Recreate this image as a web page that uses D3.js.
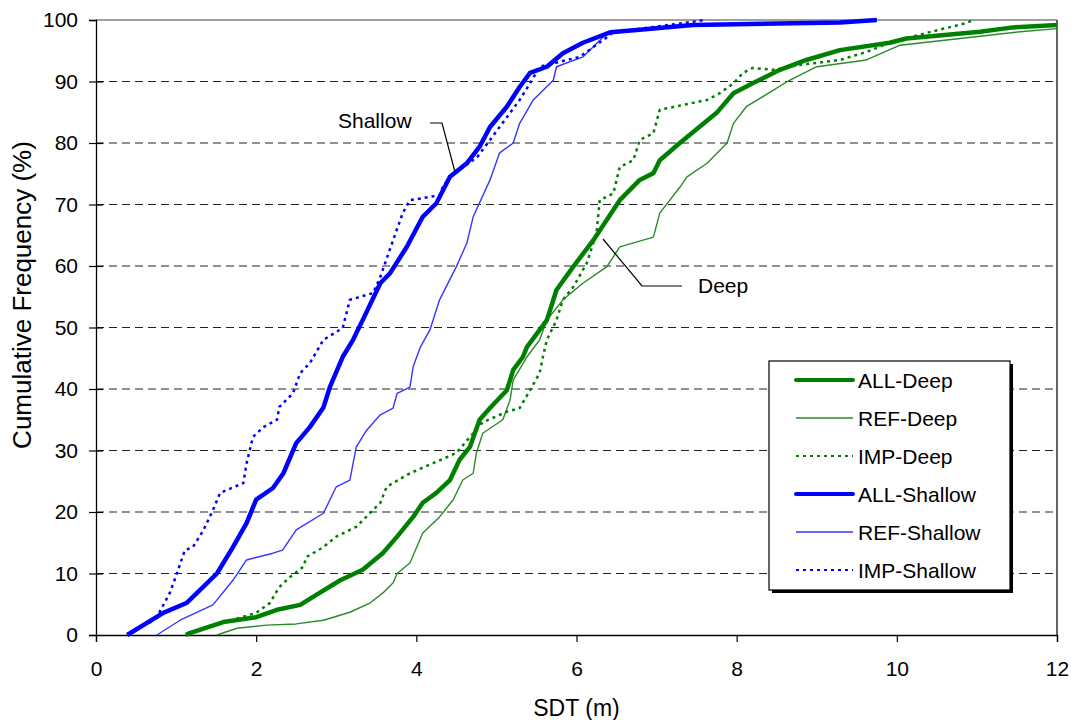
<!DOCTYPE html>
<html>
<head>
<meta charset="utf-8">
<script src="https://cdn.jsdelivr.net/npm/d3@7"></script>
<style>
  body { margin: 0; background: #fff; }
  text { font-family: "Liberation Sans", Arial, sans-serif; fill: #000; }
</style>
</head>
<body>
<div id="chart"></div>
<script>
// cumulative frequency curves: [SDT (m), %]
let allDeep = [[1.12,0],[1.17,0.3],[1.59,2.1],[2.0,2.9],[2.26,4.1],[2.55,4.9],[2.71,6.2],[3.05,8.9],
  [3.33,10.6],[3.58,13.3],[3.76,16],[3.96,19.2],[4.08,21.5],[4.25,23.1],[4.42,25.2],[4.54,28.5],
  [4.67,30.6],[4.79,35],[4.92,36.9],[5.13,39.8],[5.21,43.1],[5.33,45.2],[5.38,46.8],[5.54,49.6],
  [5.63,51.2],[5.75,56.1],[5.96,59.9],[6.21,64.2],[6.54,70.7],[6.79,74],[6.96,75.1],[7.04,77.2],
  [7.29,80],[7.75,84.9],[7.96,88.1],[8.2,89.7],[8.54,91.9],[8.87,93.5],[9.29,95.1],[9.91,96.3],
  [10.12,97],[11.04,98.1],[11.45,98.8],[12,99.2]];

let refDeep = [[1.51,0],[1.76,1.1],[2.13,1.6],[2.5,1.8],[2.84,2.4],[3.17,3.7],[3.42,5.2],[3.58,6.8],
  [3.71,8.5],[3.76,10],[3.92,11.7],[4.08,16.6],[4.29,19.2],[4.46,22],[4.58,25.2],[4.71,26.3],
  [4.75,29.6],[4.83,32.8],[5.08,35],[5.17,38.2],[5.21,41.5],[5.38,45.2],[5.54,48],[5.63,51.2],
  [5.83,54.5],[6.08,57.2],[6.38,59.9],[6.54,63.1],[6.96,64.7],[7.04,68.6],[7.29,72.8],[7.38,74.5],
  [7.63,76.7],[7.88,80],[7.96,83.2],[8.12,85.9],[8.66,90.2],[9.0,92.4],[9.62,93.5],[10.04,95.9],
  [11.54,98.1],[12,98.6]];

let impDeep = [[1.17,0.3],[1.59,2],[2.0,3.6],[2.17,5.2],[2.29,7.8],[2.42,9.4],[2.59,11.1],[2.63,12.7],
  [2.84,14.3],[3.0,16],[3.25,17.6],[3.42,19.8],[3.55,21.5],[3.63,24.1],[3.92,26.3],[4.38,28.9],
  [4.5,29.6],[4.67,32.2],[4.83,34.6],[5.13,36.3],[5.29,36.9],[5.42,39.8],[5.54,42.6],[5.58,45.2],
  [5.63,48],[5.75,51.2],[5.83,54.5],[5.96,56.6],[6.13,60.5],[6.25,65.4],[6.29,70.7],[6.46,71.8],
  [6.54,76.1],[6.71,77.2],[6.79,80.5],[6.96,81.6],[7.04,85.4],[7.63,87],[7.79,88.1],[7.96,89.7],
  [8.08,91.4],[8.2,92.2],[8.46,91.9],[8.79,92.7],[9.29,93.5],[9.62,94.8],[9.91,96.3],[10.37,97.9],
  [10.87,99.5],[10.95,100]];

let allShallow = [[0.39,0],[0.84,3.6],[1.13,5.2],[1.51,10],[1.71,14.3],[1.88,18.2],[2.0,22],[2.21,23.9],
  [2.34,26.3],[2.5,31.2],[2.67,33.8],[2.84,37],[2.92,40.3],[3.08,45.2],[3.21,48],[3.33,51.2],
  [3.55,57.2],[3.67,58.8],[3.88,63.1],[4.08,68],[4.25,70.2],[4.42,74.5],[4.63,76.7],[4.79,79.4],
  [4.92,82.6],[5.13,85.9],[5.29,89.1],[5.42,91.4],[5.63,92.4],[5.83,94.6],[6.08,96.3],[6.42,98],
  [6.79,98.4],[7.45,99.2],[9.29,99.6],[9.75,100]];

let refShallow = [[0.76,0],[1.05,2.4],[1.46,4.9],[1.71,8.9],[1.88,12.2],[2.21,13.3],[2.33,13.8],
  [2.5,17.1],[2.84,19.8],[3.0,24.1],[3.17,25.2],[3.25,30.6],[3.38,33.3],[3.55,35.8],[3.71,36.9],
  [3.76,39.3],[3.92,40.3],[3.96,43.6],[4.05,46.8],[4.17,49.6],[4.29,54.5],[4.5,59.9],[4.63,63.7],
  [4.71,68],[4.92,74],[5.04,78.4],[5.21,80],[5.29,83.2],[5.46,87],[5.71,90.2],[5.75,92.4],
  [6.08,94],[6.33,97.2],[6.42,98],[6.79,98.4],[7.45,99.2],[9.29,99.6],[9.75,100]];

let impShallow = [[0.67,2],[0.76,2.9],[0.92,6.8],[1.01,10],[1.11,13.8],[1.21,14.3],[1.34,17],[1.46,20.3],
  [1.55,23.1],[1.84,24.7],[1.88,27.9],[1.96,32.2],[2.09,33.8],[2.26,35],[2.29,37.1],[2.46,39.3],
  [2.55,42.6],[2.67,44.2],[2.84,48],[3.08,49.9],[3.17,54.5],[3.46,55.6],[3.55,58.2],[3.71,64.2],
  [3.83,68.6],[3.92,70.7],[4.29,71.5],[4.33,72.8],[4.42,74.5],[4.76,77.7],[4.92,80.5],[5.04,82.6],
  [5.29,87],[5.42,89.7],[5.54,92.4],[6.04,94],[6.38,97.2],[6.46,98],[7.45,99.7],[7.6,100]];

let seriesNames = ["ALL-Deep", "REF-Deep", "IMP-Deep", "ALL-Shallow", "REF-Shallow", "IMP-Shallow"];
let seriesData = [allDeep, refDeep, impDeep, allShallow, refShallow, impShallow];

let xTicks = [0, 2, 4, 6, 8, 10, 12];
let yTicks = [0, 10, 20, 30, 40, 50, 60, 70, 80, 90, 100];

// line styles per series
let styles = [
  { color: "#008000", width: 4.5, dash: null },
  { color: "#2a8a2a", width: 1.4, dash: null },
  { color: "#008000", width: 2.5, dash: "3,4" },
  { color: "#0000ff", width: 4.5, dash: null },
  { color: "#3535ff", width: 1.4, dash: null },
  { color: "#0000ff", width: 2.5, dash: "3,4" }
];

let W = 1071, H = 720;
let m = { left: 96, right: 1057, top: 20, bottom: 635 };

let svg = d3.select("#chart").append("svg")
  .attr("width", W)
  .attr("height", H);

let x = d3.scaleLinear().domain([0, 12]).range([m.left, m.right]);
let y = d3.scaleLinear().domain([0, 100]).range([m.bottom, m.top]);

// horizontal dashed grid
svg.selectAll("line.grid")
  .data(yTicks.filter(d => d > 0 && d < 100))
  .enter()
  .append("line")
  .attr("class", "grid")
  .attr("x1", m.left).attr("x2", m.right)
  .attr("y1", d => y(d)).attr("y2", d => y(d))
  .style("stroke", "#222")
  .style("stroke-width", 1)
  .style("stroke-dasharray", "8,5");

// top and right frame
svg.append("line")
  .attr("x1", m.left).attr("x2", m.right)
  .attr("y1", y(100)).attr("y2", y(100))
  .style("stroke", "#808080").style("stroke-width", 1.5);
svg.append("line")
  .attr("x1", m.right).attr("x2", m.right)
  .attr("y1", m.top).attr("y2", m.bottom)
  .style("stroke", "#000").style("stroke-width", 1.2);

// axes
let xAxis = d3.axisBottom(x).tickValues(xTicks).tickSize(7).tickPadding(19);
let yAxis = d3.axisLeft(y).tickValues(yTicks).tickSize(7).tickPadding(11);

let gx = svg.append("g").attr("transform", "translate(0," + m.bottom + ")").call(xAxis);
let gy = svg.append("g").attr("transform", "translate(" + m.left + ",0)").call(yAxis);

[gx, gy].forEach(g => {
  g.select(".domain").style("stroke", "#000").style("stroke-width", 1.3);
  g.selectAll(".tick line").style("stroke", "#000").style("stroke-width", 1.2);
  g.selectAll(".tick text")
    .style("font-family", "'Liberation Sans', Arial, sans-serif")
    .style("font-size", "21px")
    .style("fill", "#000");
});
// y ticks cross the axis a little
gy.selectAll(".tick line").attr("x2", -7).attr("x1", 7);
gy.selectAll(".tick").filter(d => d === 100 || d === 0).select("line").attr("x1", 0);

// axis titles
svg.append("text")
  .attr("x", (m.left + m.right) / 2)
  .attr("y", 716)
  .attr("text-anchor", "middle")
  .style("font-size", "23px")
  .text("SDT (m)");

svg.append("text")
  .attr("transform", "translate(31,295) rotate(-90)")
  .attr("text-anchor", "middle")
  .style("font-size", "26px")
  .text("Cumulative Frequency (%)");

// curves
let line = d3.line()
  .x(d => x(d[0]))
  .y(d => y(d[1]));

let plot = svg.append("g");

// draw thin/dotted first, thick on top like the original
let order = [1, 2, 4, 5, 0, 3];
plot.selectAll("path.curve")
  .data(order)
  .enter()
  .append("path")
  .attr("class", "curve")
  .attr("d", i => line(seriesData[i]))
  .style("fill", "none")
  .style("stroke", i => styles[i].color)
  .style("stroke-width", i => styles[i].width)
  .style("stroke-dasharray", i => styles[i].dash)
  .style("stroke-linejoin", "round");

// callouts
let callouts = [
  { label: "Shallow", tx: 338, ty: 128, pts: [[430, 123], [442, 123], [455, 172]] },
  { label: "Deep", tx: 698, ty: 293, pts: [[682, 286], [642, 286], [603, 239]] }
];

callouts.forEach(c => {
  svg.append("polyline")
    .attr("points", c.pts.map(p => p.join(",")).join(" "))
    .style("fill", "none")
    .style("stroke", "#000")
    .style("stroke-width", 1.2);
  svg.append("text")
    .attr("x", c.tx)
    .attr("y", c.ty)
    .style("font-size", "21px")
    .text(c.label);
});

// legend
let lg = svg.append("g");
lg.append("rect")
  .attr("x", 772).attr("y", 364)
  .attr("width", 241).attr("height", 229)
  .style("fill", "#000");
lg.append("rect")
  .attr("x", 769).attr("y", 361)
  .attr("width", 241).attr("height", 229)
  .style("fill", "#fff")
  .style("stroke", "#000")
  .style("stroke-width", 1.2);

let items = lg.selectAll("g.item")
  .data(seriesNames)
  .enter()
  .append("g")
  .attr("class", "item")
  .attr("transform", (d, i) => "translate(0," + (380 + i * 38) + ")");

items.append("line")
  .attr("x1", 796).attr("x2", 853)
  .attr("y1", 0).attr("y2", 0)
  .style("stroke", (d, i) => styles[i].color)
  .style("stroke-width", (d, i) => styles[i].width === 4.5 ? 4 : (styles[i].dash ? 2 : 1.5))
  .style("stroke-dasharray", (d, i) => styles[i].dash ? "3,4" : null)
  .style("stroke-linecap", (d, i) => styles[i].width === 4.5 ? "round" : "butt");

items.append("text")
  .attr("x", 858)
  .attr("y", 8)
  .style("font-size", "21px")
  .text(d => d);
</script>
</body>
</html>
